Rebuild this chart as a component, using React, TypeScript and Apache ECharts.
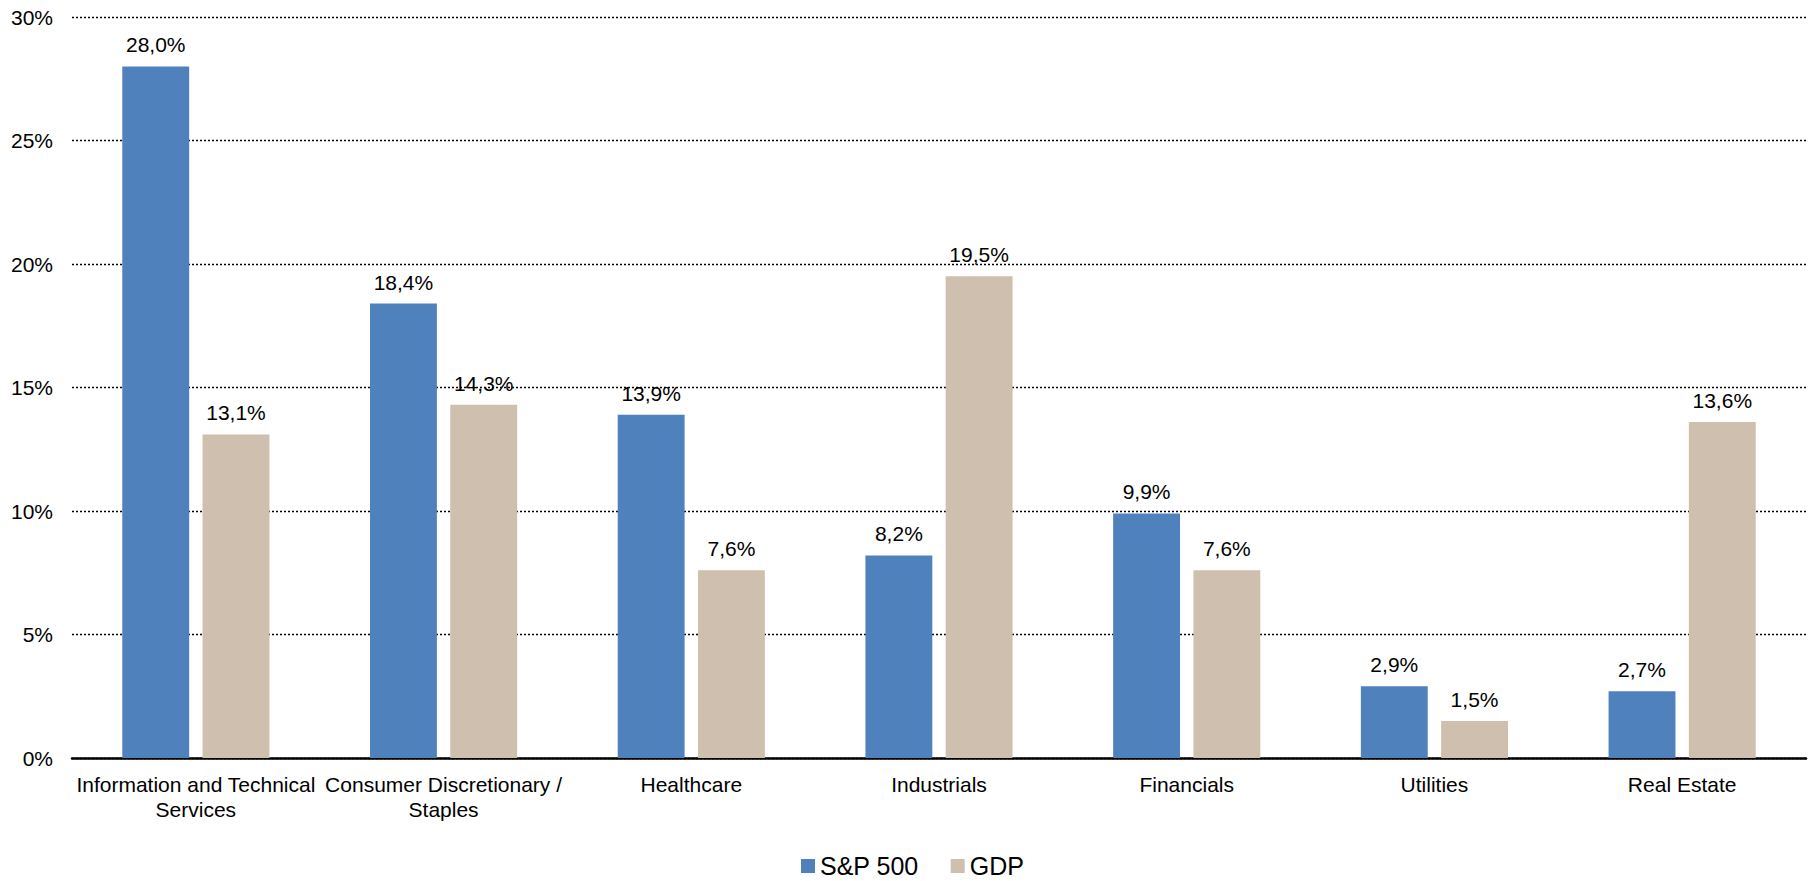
import React, { useEffect, useRef } from "react";
import * as echarts from "echarts";

const categories = [
  "Information and Technical\nServices",
  "Consumer Discretionary /\nStaples",
  "Healthcare",
  "Industrials",
  "Financials",
  "Utilities",
  "Real Estate",
];
const spValues = [28.0, 18.4, 13.9, 8.2, 9.9, 2.9, 2.7];
const gdpValues = [13.1, 14.3, 7.6, 19.5, 7.6, 1.5, 13.6];
const seriesNames = ["S&P 500", "GDP"];

const FONT = "'Liberation Sans', Arial, sans-serif";
const BLUE = "#4F81BD";
const BEIGE = "#CFBFAF";

const fmt = (v: number) => v.toFixed(1).replace(".", ",") + "%";

export default function App() {
  const ref = useRef<HTMLDivElement>(null);

  useEffect(() => {
    if (!ref.current) return;
    const chart = echarts.init(ref.current, undefined, { renderer: "svg" });
    const labelStyle = {
      show: true,
      position: "top" as const,
      distance: 11,
      color: "#000",
      fontSize: 21,
      fontFamily: FONT,
      formatter: (p: any) => fmt(p.value),
    };
    chart.setOption({
      animation: false,
      backgroundColor: "#fff",
      textStyle: { fontFamily: FONT },
      grid: { left: 72, right: 2, top: 17, bottom: 123, containLabel: false },
      legend: {
        data: seriesNames,
        left: 801,
        top: 853,
        padding: 0,
        itemWidth: 14,
        itemHeight: 14,
        itemGap: 32,
        icon: "rect",
        textStyle: { fontSize: 25, lineHeight: 26, color: "#000", fontFamily: FONT },
      },
      xAxis: {
        type: "category",
        data: categories,
        axisLine: { show: true, lineStyle: { color: "#000", width: 2.5 } },
        axisTick: { show: false },
        axisLabel: {
          interval: 0,
          color: "#000",
          fontSize: 21,
          lineHeight: 25,
          margin: 14,
          fontFamily: FONT,
        },
      },
      yAxis: {
        type: "value",
        min: 0,
        max: 30,
        interval: 5,
        axisLine: { show: false },
        axisTick: { show: false },
        axisLabel: {
          color: "#000",
          fontSize: 21,
          margin: 19,
          fontFamily: FONT,
          formatter: (v: number) => v + "%",
        },
        splitLine: {
          show: true,
          lineStyle: { color: "#000", width: 1.4, type: [2, 2] },
        },
      },
      series: [
        {
          name: seriesNames[0],
          type: "bar",
          data: spValues,
          barWidth: "27%",
          barGap: "20%",
          itemStyle: { color: BLUE },
          label: labelStyle,
        },
        {
          name: seriesNames[1],
          type: "bar",
          data: gdpValues,
          barWidth: "27%",
          itemStyle: { color: BEIGE },
          label: labelStyle,
        },
      ],
    });
    return () => chart.dispose();
  }, []);

  return (
    <div
      ref={ref}
      style={{ position: "absolute", left: 0, top: 0, width: 1808, height: 881 }}
    />
  );
}
